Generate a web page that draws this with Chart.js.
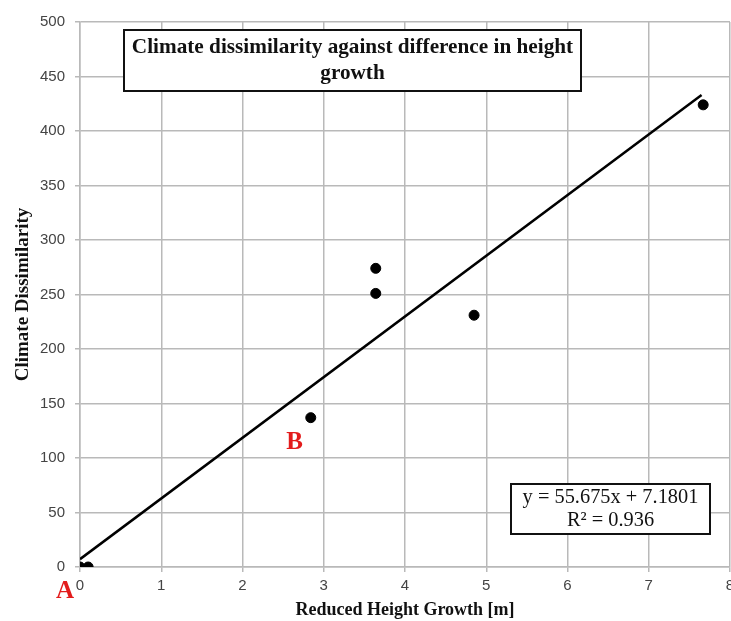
<!DOCTYPE html>
<html>
<head>
<meta charset="utf-8">
<script src="https://cdn.jsdelivr.net/npm/chart.js@4/dist/chart.umd.min.js"></script>
<style>
    html, body { margin: 0; padding: 0; background: #fff; overflow: hidden; }
    #clip { width: 731px; height: 621px; overflow: hidden; }
    #wrap { width: 736px; height: 621px; position: relative; }
</style>
</head>
<body>
<div id="clip"><div id="wrap"><canvas id="chart"></canvas></div></div>
<script>

// measured points
let pointX = [ 0, 0.1, 2.84, 3.64, 3.64, 4.85, 7.67 ],
    pointY = [ 0, 0, 137, 274, 251, 231, 424 ];

// trend line end points (from the fitted equation)
let trendX = [ 0, 7.65 ],
    trendY = [ 7.2, 433.1 ];

let xTicks = [ 0, 1, 2, 3, 4, 5, 6, 7, 8 ],
    yTicks = [ 0, 50, 100, 150, 200, 250, 300, 350, 400, 450, 500 ];

let chartTitle = [ 'Climate dissimilarity against difference in height', 'growth' ],
    equation = [ 'y = 55.675x + 7.1801', 'R² = 0.936' ],
    xTitle = 'Reduced Height Growth [m]',
    yTitle = 'Climate Dissimilarity';

let serif = '"Liberation Serif", "DejaVu Serif", serif',
    sans = '"Liberation Sans", Arial, sans-serif',
    gridColor = 'rgba( 185 185 185 / 1 )',
    tickColor = '#444';

/**
 * draw boxed text lines
 */
function draw_box( ctx, box, lines, font, lineGap, squeeze ) {

    ctx.save();
    ctx.fillStyle = '#fff';
    ctx.fillRect( box[0], box[1], box[2], box[3] );
    ctx.lineWidth = 2;
    ctx.strokeStyle = '#111';
    ctx.strokeRect( box[0], box[1], box[2], box[3] );
    ctx.fillStyle = '#111';
    ctx.font = font;
    ctx.textAlign = 'center';
    ctx.textBaseline = 'middle';

    let cx = box[0] + box[2] / 2,
        cy = box[1] + box[3] / 2 - ( lines.length - 1 ) * lineGap / 2;

    lines.forEach( ( l, i ) => {
        ctx.save();
        ctx.translate( cx, cy + i * lineGap );
        ctx.scale( squeeze, 1 );
        ctx.fillText( l, 0, 0 );
        ctx.restore();
    } );

    ctx.restore();

};

let overlay = {
    id: 'overlay',
    afterDatasetsDraw( chart ) {

        let ctx = chart.ctx,
            x = chart.scales.x,
            y = chart.scales.y;

        draw_box( ctx, [ 124, 30, 457, 61 ], chartTitle, 'bold 22px ' + serif, 26, 0.965 );
        draw_box( ctx, [ 511, 484, 199, 50 ], equation, '21px ' + serif, 23, 0.97 );

        ctx.save();
        ctx.fillStyle = '#e31c1c';
        ctx.font = 'bold 25px ' + serif;
        ctx.textAlign = 'center';
        ctx.textBaseline = 'middle';
        ctx.fillText( 'A', x.getPixelForValue( 0 ) - 15, y.getPixelForValue( 0 ) + 25 );
        ctx.fillText( 'B', x.getPixelForValue( 2.64 ), y.getPixelForValue( 114 ) );
        ctx.restore();

    }
};

new Chart( document.getElementById( 'chart' ).getContext( '2d' ), {
    type: 'scatter',
    data: {
        datasets: [ {
            data: trendX.map( ( v, i ) => ( { x: v, y: trendY[ i ] } ) ),
            showLine: true,
            borderColor: '#000',
            borderWidth: 2.5,
            pointRadius: 0,
            order: 2
        }, {
            data: pointX.map( ( v, i ) => ( { x: v, y: pointY[ i ] } ) ),
            backgroundColor: '#000',
            borderColor: '#000',
            pointRadius: 5,
            order: 1
        } ]
    },
    options: {
        responsive: true,
        maintainAspectRatio: false,
        animation: false,
        layout: {
            padding: { top: 22, right: 1, bottom: 0, left: 0 }
        },
        plugins: {
            legend: { display: false },
            tooltip: { enabled: false }
        },
        scales: {
            x: {
                type: 'linear',
                min: 0,
                max: 8,
                afterBuildTicks: ( s ) => { s.ticks = xTicks.map( v => ( { value: v } ) ); },
                afterFit: ( s ) => { s.height = 54; s.paddingLeft = 0; s.paddingRight = 0; },
                border: { color: gridColor, width: 1.5 },
                grid: { color: gridColor, lineWidth: 1.5, tickLength: 5 },
                ticks: {
                    padding: 5,
                    color: tickColor,
                    font: { family: sans, size: 15 }
                },
                title: {
                    display: true,
                    text: xTitle,
                    color: '#111',
                    font: { family: serif, size: 18, weight: 'bold' },
                    padding: { top: 0, bottom: 0 }
                }
            },
            y: {
                type: 'linear',
                min: 0,
                max: 500,
                afterBuildTicks: ( s ) => { s.ticks = yTicks.map( v => ( { value: v } ) ); },
                afterFit: ( s ) => { s.width = 80; s.paddingTop = 0; s.paddingBottom = 0; },
                border: { color: gridColor, width: 1.5 },
                grid: { color: gridColor, lineWidth: 1.5, tickLength: 5 },
                ticks: {
                    padding: 10,
                    color: tickColor,
                    font: { family: sans, size: 15 }
                },
                title: {
                    display: true,
                    text: yTitle,
                    color: '#111',
                    font: { family: serif, size: 19, weight: 'bold' },
                    padding: { top: 12, bottom: 0 }
                }
            }
        }
    },
    plugins: [ overlay ]
} );

</script>
</body>
</html>
